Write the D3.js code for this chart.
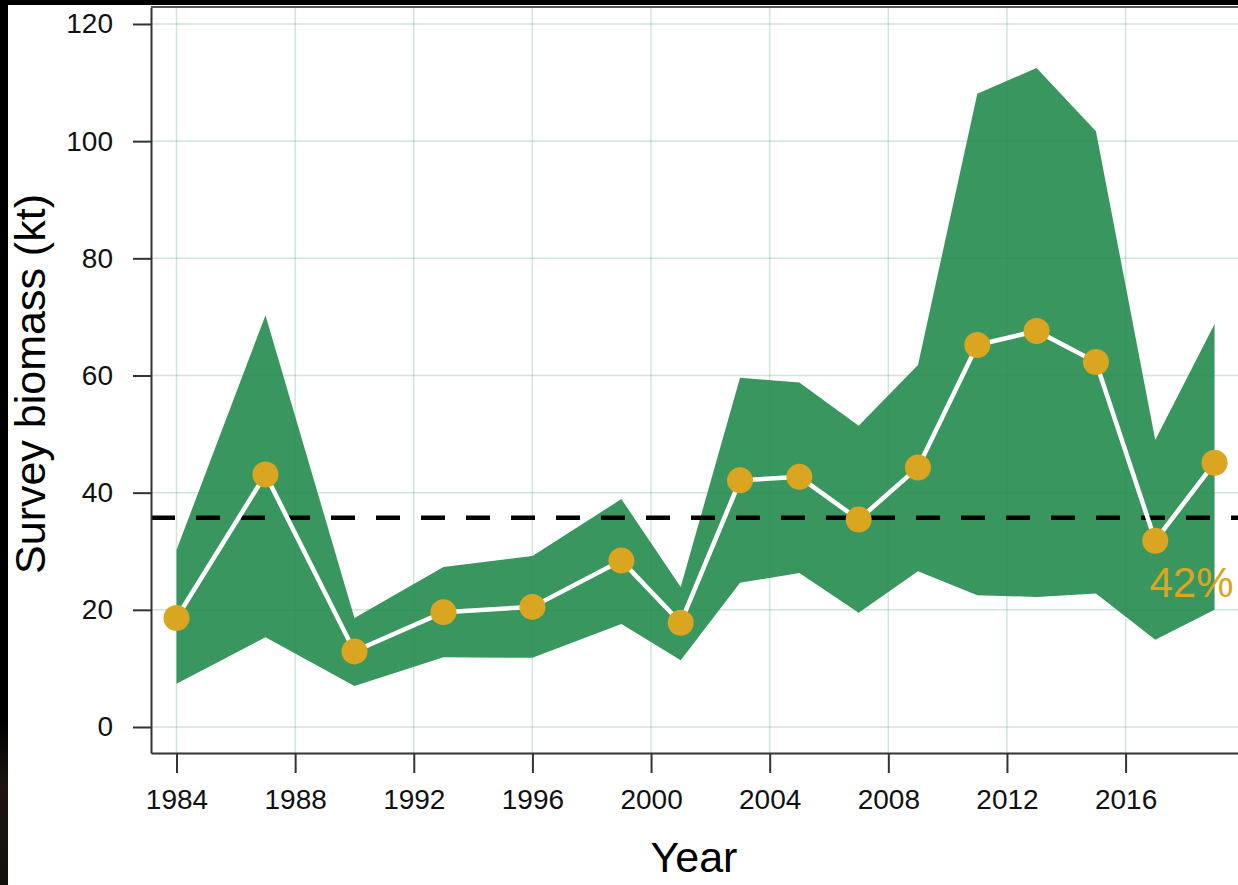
<!DOCTYPE html>
<html>
<head>
<meta charset="utf-8">
<script src="https://cdn.jsdelivr.net/npm/d3@7"></script>
<style>
  html, body { margin: 0; padding: 0; background: #000; }
  svg { display: block; font-family: "Liberation Sans", Arial, sans-serif; }
</style>
</head>
<body>
<svg id="chart" width="1238" height="885"></svg>
<script>
// survey years and biomass estimates (kt)
const years = [1984, 1987, 1990, 1993, 1996, 1999, 2001, 2003, 2005, 2007, 2009, 2011, 2013, 2015, 2017, 2019];
const biomass = [18.6, 43.1, 12.9, 19.6, 20.5, 28.4, 17.8, 42.1, 42.7, 35.4, 44.3, 65.2, 67.6, 62.3, 31.8, 45.1];
const upper = [30.2, 70.3, 18.6, 27.3, 29.2, 38.9, 23.9, 59.6, 58.8, 51.4, 61.8, 108.1, 112.5, 101.7, 49.0, 68.8];
const lower = [7.4, 15.3, 7.0, 11.9, 11.8, 17.6, 11.4, 24.6, 26.3, 19.5, 26.6, 22.5, 22.2, 22.8, 14.9, 20.0];
const meanLevel = 35.7;
const xTicks = [1984, 1988, 1992, 1996, 2000, 2004, 2008, 2012, 2016];
const yTicks = [0, 20, 40, 60, 80, 100, 120];
const pctLabel = "42%";

const data = years.map((yr, i) => ({ year: yr, value: biomass[i], hi: upper[i], lo: lower[i] }));

const svg = d3.select('#chart');

// white page with a dark strip on the left and top
svg.append('rect').attr('x', 0).attr('y', 0).attr('width', 1238).attr('height', 885).attr('fill', '#000');
svg.append('rect').attr('x', 8).attr('y', 5).attr('width', 1230).attr('height', 880).attr('fill', '#fff');
const strip = svg.append('defs').append('linearGradient')
    .attr('id', 'strip').attr('x1', 0).attr('y1', 0).attr('x2', 0).attr('y2', 1);
strip.append('stop').attr('offset', '0%').attr('stop-color', '#000');
strip.append('stop').attr('offset', '40%').attr('stop-color', '#1c1510');
strip.append('stop').attr('offset', '100%').attr('stop-color', '#140f0a');
svg.append('rect').attr('x', 0).attr('y', 720).attr('width', 8).attr('height', 165).attr('fill', 'url(#strip)');

const pLeft = 151, pTop = 7, pRight = 1238, pBottom = 753;

const x = d3.scaleLinear().domain([1983.14, 2019.79]).range([pLeft, pRight]);
const y = d3.scaleLinear().domain([-4.44, 122.9]).range([pBottom, pTop]);

// confidence band
const area = d3.area()
    .x(d => x(d.year))
    .y0(d => y(d.lo))
    .y1(d => y(d.hi));

svg.append('path')
    .datum(data)
    .attr('d', area)
    .attr('fill', '#3a965f');

// grid
const grid = svg.append('g').attr('stroke', 'rgba(46,139,87,0.22)').attr('stroke-width', 1.5);
grid.selectAll('.gx').data(xTicks).enter().append('line')
    .attr('x1', d => x(d)).attr('x2', d => x(d))
    .attr('y1', pTop).attr('y2', pBottom);
grid.selectAll('.gy').data(yTicks).enter().append('line')
    .attr('x1', pLeft).attr('x2', pRight)
    .attr('y1', d => y(d)).attr('y2', d => y(d));

// mean level
svg.append('line')
    .attr('x1', pLeft).attr('x2', pRight)
    .attr('y1', y(meanLevel)).attr('y2', y(meanLevel))
    .attr('stroke', '#000')
    .attr('stroke-width', 4.5)
    .attr('stroke-dasharray', '24,21');

// biomass line and points
const line = d3.line()
    .x(d => x(d.year))
    .y(d => y(d.value));

svg.append('path')
    .datum(data)
    .attr('d', line)
    .attr('fill', 'none')
    .attr('stroke', '#fff')
    .attr('stroke-width', 4.5);

svg.selectAll('.pt')
    .data(data)
    .enter()
    .append('circle')
    .attr('cx', d => x(d.year))
    .attr('cy', d => y(d.value))
    .attr('r', 13)
    .attr('fill', '#daa520');

svg.append('text')
    .attr('x', x(2019) + 19)
    .attr('y', 597)
    .attr('text-anchor', 'end')
    .attr('fill', '#daa520')
    .style('font-size', '42px')
    .text(pctLabel);

// axes
const xAxis = svg.append('g')
    .attr('transform', `translate(0,${pBottom})`)
    .call(d3.axisBottom(x).tickValues(xTicks).tickFormat(d3.format('d')).tickSize(20).tickSizeOuter(0).tickPadding(16));

const yAxis = svg.append('g')
    .attr('transform', `translate(${pLeft},0)`)
    .call(d3.axisLeft(y).tickValues(yTicks).tickSize(18).tickSizeOuter(0).tickPadding(20));

[xAxis, yAxis].forEach(g => {
  g.select('.domain').attr('stroke', '#333').attr('stroke-width', 2);
  g.selectAll('.tick line').attr('stroke', '#333').attr('stroke-width', 2);
  g.selectAll('.tick text').attr('fill', '#111').style('font-size', '28px').style('font-family', '"Liberation Sans", Arial, sans-serif');
});

// top border of the panel
svg.append('line')
    .attr('x1', pLeft).attr('x2', pRight)
    .attr('y1', pTop).attr('y2', pTop)
    .attr('stroke', '#555').attr('stroke-width', 2);

// axis titles
svg.append('text')
    .attr('x', 694)
    .attr('y', 872)
    .attr('text-anchor', 'middle')
    .attr('fill', '#000')
    .style('font-size', '43px')
    .text('Year');

svg.append('text')
    .attr('transform', 'translate(45,384) rotate(-90)')
    .attr('text-anchor', 'middle')
    .attr('fill', '#000')
    .style('font-size', '43px')
    .text('Survey biomass (kt)');
</script>
</body>
</html>
